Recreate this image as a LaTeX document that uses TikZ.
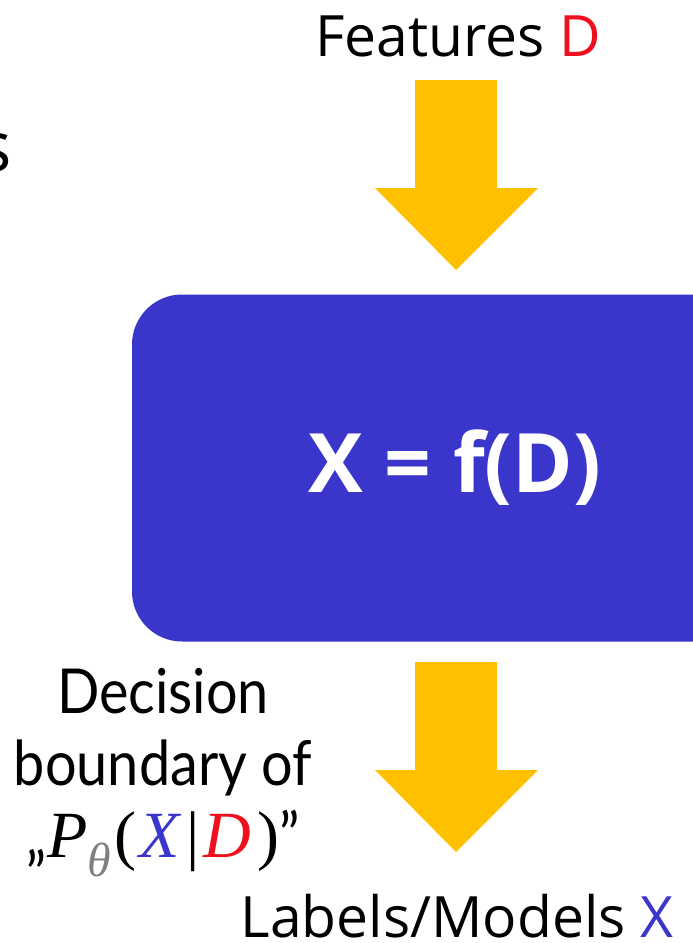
\documentclass[tikz,border=0pt]{standalone}
\usepackage{fontspec}
\setmainfont{Open Sans}
\newfontfamily\condensed[FakeStretch=0.9]{Lato}
\newfontfamily\mathserif{Liberation Serif}
\usetikzlibrary{positioning}

\definecolor{modelblue}{RGB}{58,54,204}
\definecolor{arrowyellow}{RGB}{255,192,0}
\definecolor{featred}{RGB}{238,16,30}

\begin{document}
\begin{tikzpicture}[
    x=1pt, y=-1pt,
    every node/.style={inner sep=0pt, outer sep=0pt},
    labeltext/.style={font=\fontsize{57}{62}\selectfont},
    model/.style={fill=modelblue, rounded corners=50pt, minimum width=646pt, minimum height=347pt,
                  text=white, font=\fontsize{82}{90}\selectfont\bfseries},
    fatarrow/.style={fill=arrowyellow},
    sidetext/.style={align=center, font=\condensed\fontsize{62}{72}\selectfont}
]
\useasboundingbox (0,0) rectangle (693,943);
\clip (0,0) rectangle (693,943);

% cut-off word on the left
\node[labeltext, font=\fontsize{70}{70}\selectfont, anchor=base east] (cut) at (12,171) {s};

\node[labeltext, anchor=base] (features) at (458,56) {Features \textcolor{featred}{D}};
\node[model] (fmodel) at (455,468) {X = f(D)};
\node[labeltext, anchor=base] (labels) at (457,937) {Labels/Models \textcolor{modelblue}{X}};

% yellow arrows
\fill[fatarrow] (415,80) -- (497,80) -- (497,188) -- (538,188) -- (456,270) -- (375,188) -- (415,188) -- cycle;
\fill[fatarrow] (415,662) -- (497,662) -- (497,770) -- (538,770) -- (456,852) -- (375,770) -- (415,770) -- cycle;

\node[sidetext, anchor=base] (boundary) at (163,857)
  {Decision\\boundary of\\„{\mathserif\fontsize{66}{72}\selectfont\itshape P\raisebox{-0.3em}{\fontsize{48}{48}\selectfont\textcolor{gray}{θ}}\kern4pt{\upshape(}\kern3pt\textcolor{modelblue}{X}\kern6pt{\upshape|}\kern4pt\textcolor{featred}{D}\kern6pt{\upshape)}}”};
\end{tikzpicture}
\end{document}
